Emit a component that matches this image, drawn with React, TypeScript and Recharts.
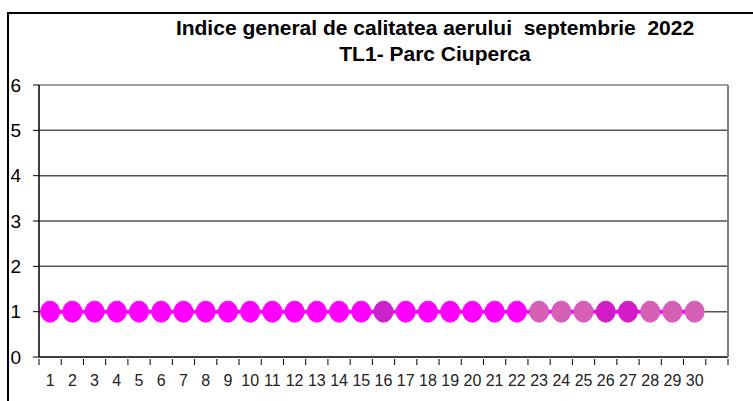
import React from "react";
import { LineChart, Line, XAxis, YAxis, ReferenceLine } from "recharts";

const days = ["1","2","3","4","5","6","7","8","9","10","11","12","13","14","15","16","17","18","19","20","21","22","23","24","25","26","27","28","29","30",""];
const indexValues: (number | null)[] = [1,1,1,1,1,1,1,1,1,1,1,1,1,1,1,1,1,1,1,1,1,1,1,1,1,1,1,1,1,1,null];
const dotColors = ["#FF00FF","#FF00FF","#FF00FF","#FF00FF","#FF00FF","#FF00FF","#FF00FF","#FF00FF","#FF00FF","#FF00FF","#FF00FF","#FF00FF","#FF00FF","#FF00FF","#FF00FF","#CC22CC","#FF00FF","#FF00FF","#FF00FF","#FF00FF","#FF00FF","#FF00FF","#D660B4","#D660B4","#D660B4","#D21CC8","#D21CC8","#D660B4","#D660B4","#D660B4",""];
const yTicks = [0,1,2,3,4,5,6];
const titleLines = ["Indice general de calitatea aerului  septembrie  2022", "TL1- Parc Ciuperca"];

const data = days.map((d, i) => ({ day: d, v: indexValues[i], color: dotColors[i] }));

const narrow = "'Liberation Sans Narrow', 'Arial Narrow', 'Liberation Sans', Arial, sans-serif";

const XTick = (props: any) => {
  const { x, y, payload, index, visibleTicksCount } = props;
  const half = payload.offset || 0;
  const last = index === visibleTicksCount - 1;
  return (
    <g>
      <line x1={x - half} x2={x - half} y1={y - 6} y2={y} stroke="#000" strokeWidth={1} />
      {last && <line x1={x + half} x2={x + half} y1={y - 6} y2={y} stroke="#000" strokeWidth={1} />}
      <text x={x} y={y + 21} textAnchor="middle" fontFamily={narrow} fontSize={16} fill="#222">
        {payload.value}
      </text>
    </g>
  );
};

const Dot = (props: any) => {
  const { cx, cy, payload } = props;
  if (cx == null || cy == null || payload.v == null) return null;
  const c = payload.color;
  const dusty = c === "#D660B4";
  return (
    <ellipse key={`d${props.index}`} cx={cx} cy={cy} rx={9.5} ry={10.5} fill={c}
      stroke={dusty ? "#E050D0" : c} strokeWidth={1} />
  );
};

export default function App() {
  return (
    <div style={{ position: "absolute", left: 0, top: 0, width: 753, height: 401, background: "#fff", overflow: "hidden" }}>
      <div style={{ position: "absolute", left: 7, top: 12, width: 760, height: 400, borderTop: "2px solid #000", borderLeft: "2px solid #000" }} />
      {titleLines.map((t, i) => (
        <div key={i} style={{ position: "absolute", left: 135, width: 600, top: 16 + i * 26, textAlign: "center", fontFamily: narrow, fontWeight: "bold", fontSize: 21, color: "#000", whiteSpace: "pre", lineHeight: "24px" }}>
          {t}
        </div>
      ))}
      <div style={{ position: "absolute", left: 0, top: 0 }}>
        <LineChart width={753} height={401} data={data} margin={{ top: 85, right: 0, bottom: 0, left: 0 }}>
          {yTicks.filter((t) => t > 0).map((t) => (
            <ReferenceLine key={t} yAxisId="l" y={t} stroke={t === 6 ? "#a0a0a0" : "#555"} strokeWidth={t === 6 ? 2 : 1.5} />
          ))}
          <XAxis dataKey="day" scale="band" interval={0} tickLine={false} axisLine={{ stroke: "#000", strokeWidth: 1.5 }} tick={<XTick />} height={44} />
          <YAxis yAxisId="l" domain={[0, 6]} ticks={yTicks} interval={0} width={39} tickSize={6} tickMargin={12}
            axisLine={{ stroke: "#000", strokeWidth: 1.5 }} tickLine={{ stroke: "#000" }}
            tick={{ fill: "#000", fontSize: 19, fontFamily: "'Liberation Sans', Arial, sans-serif" }} />
          <YAxis yAxisId="r" orientation="right" domain={[0, 6]} width={25} tick={false} tickLine={false}
            axisLine={{ stroke: "#808080", strokeWidth: 2 }} />
          <Line yAxisId="l" dataKey="v" stroke="#FF00FF" strokeWidth={4} dot={<Dot />} activeDot={false} isAnimationActive={false} connectNulls={false} />
        </LineChart>
      </div>
    </div>
  );
}
